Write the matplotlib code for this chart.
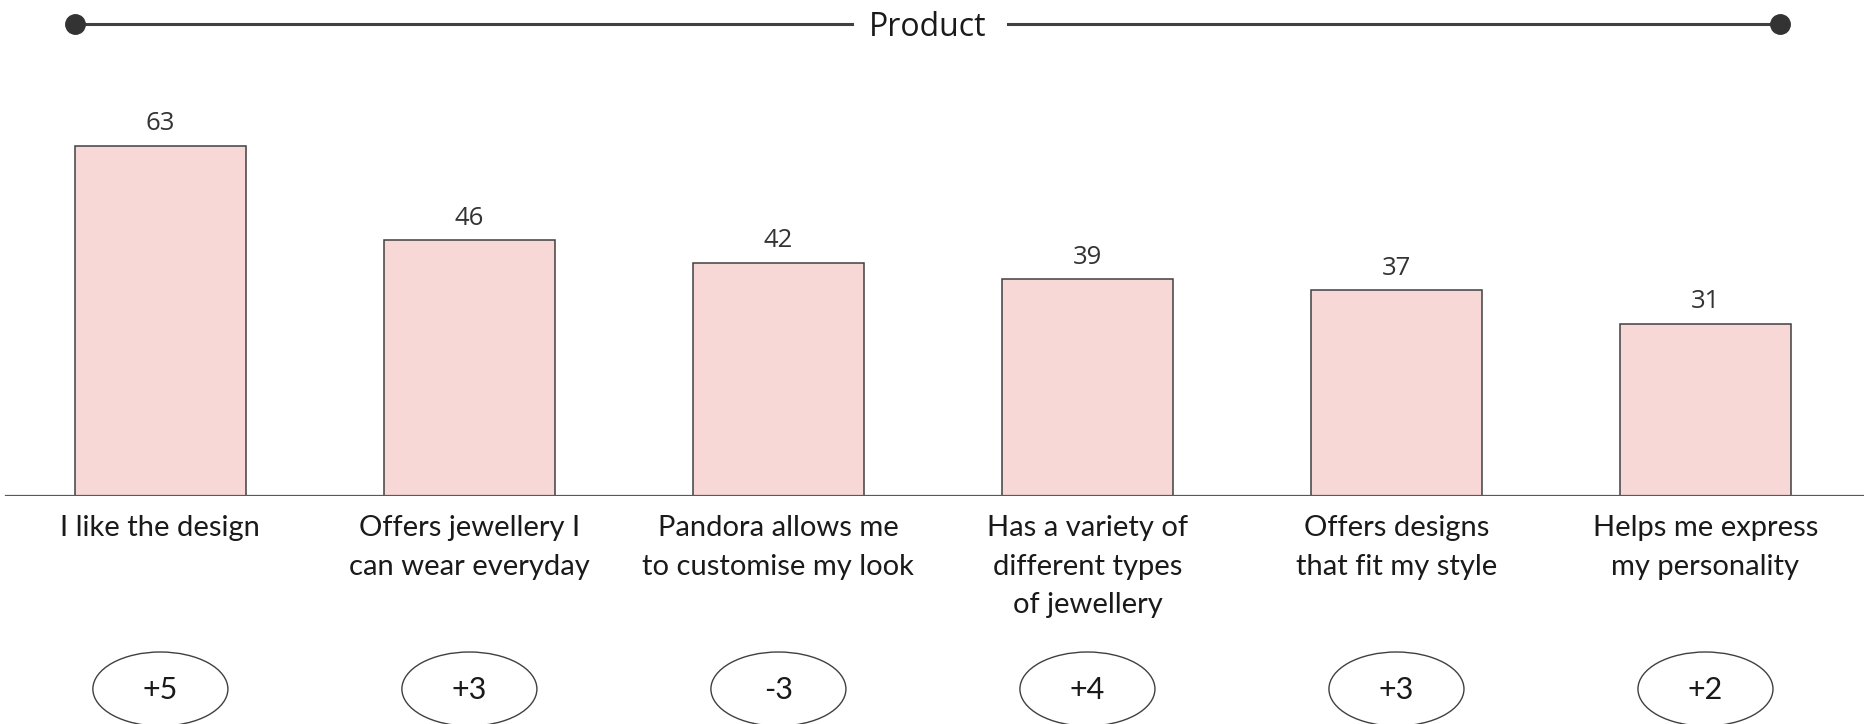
import matplotlib
matplotlib.use('Agg')
from matplotlib import pyplot as plt
from matplotlib.patches import Ellipse
from matplotlib.lines import Line2D
import matplotlib.transforms as mtransforms

categories = [
    "I like the design",
    "Offers jewellery I\ncan wear everyday",
    "Pandora allows me\nto customise my look",
    "Has a variety of\ndifferent types\nof jewellery",
    "Offers designs\nthat fit my style",
    "Helps me express\nmy personality",
]
values = [63, 46, 42, 39, 37, 31]
changes = ["+5", "+3", "-3", "+4", "+3", "+2"]
title = "Product"

W, H = 1864, 724
fig = plt.figure(figsize=(W / 100, H / 100), dpi=100)

# axes: baseline at 496px from top, bars spaced ~309px
base = 496
ax = fig.add_axes([0, (H - base) / H, 1, base / H])
ax.set_xlim(-0.519, 5.513)
ax.set_ylim(0, base / 5.556)
ax.axis('off')

x = list(range(len(values)))
ax.bar(x, values, width=0.554, color='#f8d8d7', edgecolor='#404040', linewidth=1.1, zorder=2)
ax.axhline(0, xmin=0.003, xmax=1, color='#595959', linewidth=1.6, zorder=3)

for i, v in zip(x, values):
    ax.annotate(str(v), (i, v), xytext=(0, 7), textcoords='offset points',
                ha='center', va='bottom', fontsize=18.5, family='Open Sans', color='#333333')

def fy(px):
    return 1 - px / H

# category labels under the baseline
lbl_tr = mtransforms.blended_transform_factory(ax.transData, fig.transFigure)
for i, c in zip(x, categories):
    ax.text(i, fy(515), c, transform=lbl_tr, ha='center', va='top', fontsize=21,
            family='Lato', color='#1a1a1a', linespacing=1.6, clip_on=False)

# change ovals
for i, ch in zip(x, changes):
    e = Ellipse((i, fy(689)), 0.437, 74 / H, transform=lbl_tr, facecolor='white',
                edgecolor='#404040', linewidth=1.0, clip_on=False)
    ax.add_artist(e)
    ax.text(i, fy(690), ch, transform=lbl_tr, ha='center', va='center', fontsize=22,
            family='Lato', color='#1a1a1a', clip_on=False)

# header line with dots
ty = fy(24)
fig.add_artist(Line2D([75 / W, 852 / W], [ty, ty], color='#404040', linewidth=2.2))
fig.add_artist(Line2D([1008 / W, 1780 / W], [ty, ty], color='#404040', linewidth=2.2))
fig.add_artist(Line2D([75 / W, 1780 / W], [ty, ty], linestyle='none', marker='o',
                      markersize=14, color='#333333'))
fig.text(928 / W, fy(28), title, ha='center', va='center', fontsize=23, family='Open Sans',
         color='#1a1a1a')

fig.savefig('out.png', dpi=100, facecolor='white')
